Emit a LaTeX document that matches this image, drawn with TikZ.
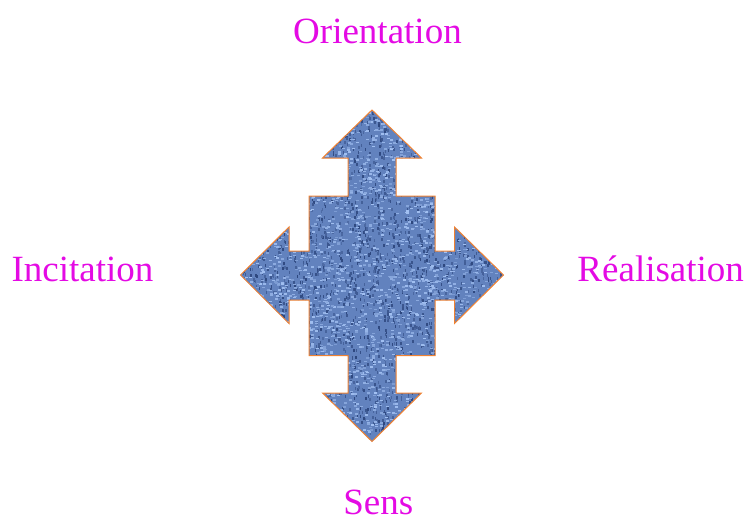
\documentclass[tikz,border=0pt]{standalone}
\usepackage{fontspec}
\setmainfont{Liberation Serif}
\definecolor{labelmag}{RGB}{228,10,228}
\definecolor{denim}{RGB}{98,130,190}
\definecolor{denimdark}{RGB}{32,56,110}
\definecolor{denimlight}{RGB}{170,200,248}
\definecolor{edgeorange}{RGB}{240,130,50}
\tikzset{
  lbl/.style={text=labelmag, font=\fontsize{37}{40}\selectfont, inner sep=0pt, anchor=base}
}
\begin{document}
\begin{tikzpicture}[x=1pt,y=-1pt]
\useasboundingbox (0,0) rectangle (748,522);
\def\crosspath{(372,110) -- (421.5,158) -- (396,158) -- (396,196) -- (435,196) -- (435,251) -- (454.5,251) -- (454.5,227) -- (503.5,275) -- (454.5,323.5) -- (454.5,300) -- (435,300) -- (435,355.5) -- (396,355.5) -- (396,393) -- (421.5,393) -- (372,441.5) -- (322.5,393) -- (348,393) -- (348,355.5) -- (309,355.5) -- (309,300) -- (289,300) -- (289,323.5) -- (240.5,275) -- (289,227) -- (289,251) -- (309,251) -- (309,196) -- (348,196) -- (348,158) -- (322.5,158) -- cycle}
\fill[denim] \crosspath;
\begin{scope}
  \clip \crosspath;
  \pgfmathsetseed{7}
  \foreach \i in {0,...,3000}{
    \pgfmathsetmacro{\px}{240+264*rnd}
    \pgfmathsetmacro{\py}{110+332*rnd}
    \pgfmathtruncatemacro{\pc}{30+50*rnd}
    \fill[denimdark!\pc!denim] (\px,\py) rectangle ++(1.5,3);
  }
  \foreach \i in {0,...,3200}{
    \pgfmathsetmacro{\px}{240+264*rnd}
    \pgfmathsetmacro{\py}{110+332*rnd}
    \pgfmathtruncatemacro{\pc}{35+55*rnd}
    \fill[denimlight!\pc!denim] (\px,\py) rectangle ++(3,1.5);
  }
\end{scope}
\draw[draw=edgeorange, line width=1pt] \crosspath;
\node[lbl] (orientation) at (377.5,43.3) {Orientation};
\node[lbl] (incitation) at (82.5,281.7) {Incitation};
\node[lbl] (realisation) at (660.7,281.7) {Réalisation};
\node[lbl] (sens) at (378.3,514.5) {Sens};
\end{tikzpicture}
\end{document}
